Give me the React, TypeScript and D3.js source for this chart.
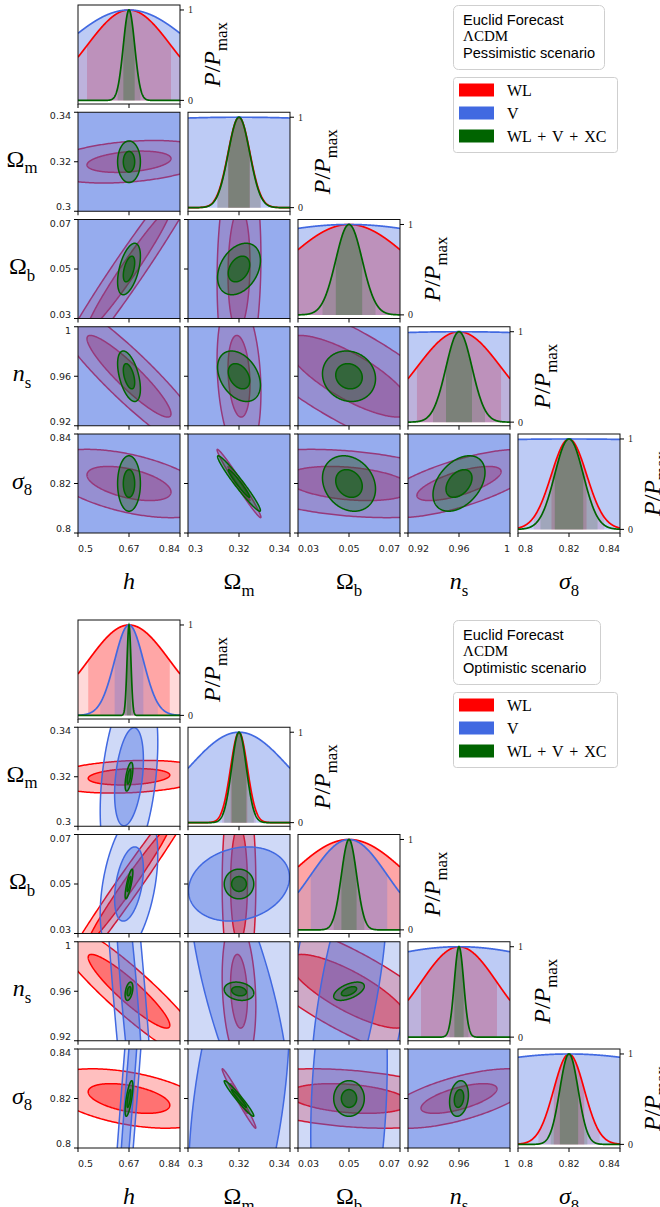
import React from 'react';
import * as d3 from 'd3';

// parameters: h, Omega_m, Omega_b, n_s, sigma_8
const fiducial = [0.67, 0.32, 0.05, 0.96, 0.82];
const axisMin = [0.5, 0.3, 0.03, 0.92, 0.8];
const axisMax = [0.84, 0.34, 0.07, 1.0, 0.84];
const tickLabels = [
  ['0.5', '0.67', '0.84'],
  ['0.3', '0.32', '0.34'],
  ['0.03', '0.05', '0.07'],
  ['0.92', '0.96', '1'],
  ['0.8', '0.82', '0.84'],
];

type Part = { t: string; it?: boolean; sub?: boolean };
const paramLabels: Part[][] = [
  [{ t: 'h', it: true }],
  [{ t: 'Ω' }, { t: 'm', sub: true }],
  [{ t: 'Ω' }, { t: 'b', sub: true }],
  [{ t: 'n', it: true }, { t: 's', sub: true }],
  [{ t: 'σ', it: true }, { t: '8', sub: true }],
];
const diagLabel: Part[] = [{ t: 'P', it: true }, { t: '/' }, { t: 'P', it: true }, { t: 'max', sub: true }];

const probeNames = ['WL', 'V', 'WL + V + XC'];
const probeColors = ['#ff0000', '#4169e1', '#006400'];

// pair order: h-Om, h-Ob, h-ns, h-s8, Om-Ob, Om-ns, Om-s8, Ob-ns, Ob-s8, ns-s8
const pessSigmaWL = [0.14, 0.0043, 0.0247, 0.033, 0.0069];
const pessSigmaV = [0.22, 0.15, 0.067, 0.3, 0.2];
const pessSigmaXC = [0.019, 0.0042, 0.0052, 0.0102, 0.0056];
const pessCorrWL = [0.3, 0.975, -0.92, -0.5, 0.1, -0.2, -0.985, -0.78, -0.3, 0.7];
const pessCorrV = [0, 0, 0, 0, 0, 0, 0, 0, 0, 0];
const pessCorrXC = [0, 0.5, -0.5, 0, 0.33, -0.35, -0.97, -0.1, -0.2, 0.4];

const optSigmaWL = [0.136, 0.0033, 0.0235, 0.0298, 0.006];
const optSigmaV = [0.048, 0.0198, 0.015, 0.118, 0.073];
const optSigmaXC = [0.0065, 0.0029, 0.003, 0.0037, 0.0036];
const optCorrWL = [0.2, 0.985, -0.92, -0.45, 0.0, -0.2, -0.985, -0.8, -0.3, 0.65];
const optCorrV = [0.35, 0.4, -0.83, 0.96, 0.18, -0.73, 0.45, 0.65, 0.2, 0];
const optCorrXC = [0.6, 0.8, 0.4, 0.7, 0, -0.2, -0.97, 0.55, 0, 0.2];

const scenarios = [
  { key: 'pess', title: 'Pessimistic scenario', top: 5, boxW: 151,
    sigmas: [pessSigmaWL, pessSigmaV, pessSigmaXC], corrs: [pessCorrWL, pessCorrV, pessCorrXC] },
  { key: 'opt', title: 'Optimistic scenario', top: 620, boxW: 147,
    sigmas: [optSigmaWL, optSigmaV, optSigmaXC], corrs: [optCorrWL, optCorrV, optCorrXC] },
];

const W = 660;
const H = 1207;
const COL_X0 = 78;
const COL_STEP = 110;
const PW = 102;
const ROW_STEP = 107.25;
const PH = 99;
const SERIF = '"Liberation Serif", "DejaVu Serif", serif';
const SANS = '"DejaVu Sans", sans-serif';
const NPAR = 5;

const pairIndex = (i: number, j: number) => {
  let k = 0;
  for (let a = 0; a < NPAR; a++) {
    for (let b = a + 1; b < NPAR; b++) {
      if (a === i && b === j) return k;
      k++;
    }
  }
  return -1;
};

function MathText({ parts, x, y, size, anchor = 'middle', transform }: any) {
  const shift = size * 0.28;
  let down = false;
  return (
    <text x={x} y={y} fontSize={size} fontFamily={SERIF} textAnchor={anchor} transform={transform} fill="#000">
      {parts.map((p: Part, k: number) => {
        let dy = 0;
        if (p.sub && !down) { dy = shift; down = true; }
        else if (!p.sub && down) { dy = -shift; down = false; }
        return (
          <tspan key={k} dy={dy || undefined} fontStyle={p.it ? 'italic' : 'normal'} fontSize={p.sub ? size * 0.7 : size}>
            {p.t}
          </tspan>
        );
      })}
    </text>
  );
}

const ellipsePath = (mx: number, my: number, sx: number, sy: number, rho: number, k: number, xs: any, ys: any) => {
  const N = 360;
  const q = Math.sqrt(Math.max(0, 1 - rho * rho));
  const pts = d3.range(N).map((n) => {
    const t = (2 * Math.PI * n) / N;
    const u = Math.cos(t);
    const v = Math.sin(t);
    return [xs(mx + k * sx * u), ys(my + k * sy * (rho * u + q * v))] as [number, number];
  });
  return d3.line().curve(d3.curveLinearClosed)(pts) || '';
};

const outerAlpha = [0.25, 0.25, 0.3];
const innerAlpha = [0.4, 0.4, 0.5];

function Triangle({ sc }: any) {
  const colLeft = (c: number) => COL_X0 + c * COL_STEP;
  const rowTop = (r: number) => sc.top + r * ROW_STEP;
  const xScale = (p: number, c: number) =>
    d3.scaleLinear().domain([axisMin[p], axisMax[p]]).range([colLeft(c), colLeft(c) + PW]);
  const yScale = (p: number, r: number) =>
    d3.scaleLinear().domain([axisMin[p], axisMax[p]]).range([rowTop(r) + PH, rowTop(r)]);

  const panels: any[] = [];
  for (let r = 0; r < NPAR; r++) {
    for (let c = 0; c <= r; c++) {
      const x0 = colLeft(c);
      const y0 = rowTop(r);
      const clipId = `clip-${sc.key}-${r}-${c}`;
      const xs = xScale(c, c);
      const content: any[] = [];
      const ticks: any[] = [];
      const labels: any[] = [];

      if (r === c) {
        const ys = d3.scaleLinear().domain([-0.04, 1.055]).range([y0 + PH, y0]);
        const lo = axisMin[c];
        const hi = axisMax[c];
        // filled bands first
        probeNames.forEach((_, p) => {
          const mu = fiducial[c];
          const s = sc.sigmas[p][c];
          const g = (x: number) => Math.exp(-0.5 * ((x - mu) / s) ** 2);
          const area = d3.area<number>().x((d) => xs(d)).y0(ys(0)).y1((d) => ys(g(d)));
          const band = (a: number, b: number, op: number, key: string) => {
            const aa = Math.max(lo, a);
            const bb = Math.min(hi, b);
            if (bb <= aa) return;
            const pts = d3.range(121).map((n) => aa + ((bb - aa) * n) / 120);
            content.push(<path key={key} d={area(pts) || ''} fill={probeColors[p]} fillOpacity={op} />);
          };
          band(mu - s, mu + s, 0.35, `b1-${p}`);
          band(mu - 2 * s, mu - s, 0.15, `b2l-${p}`);
          band(mu + s, mu + 2 * s, 0.15, `b2r-${p}`);
        });
        probeNames.forEach((_, p) => {
          const mu = fiducial[c];
          const s = sc.sigmas[p][c];
          const pts = d3.range(401).map((n) => lo + ((hi - lo) * n) / 400);
          const line = d3.line<number>().x((d) => xs(d)).y((d) => ys(Math.exp(-0.5 * ((d - mu) / s) ** 2)));
          content.push(<path key={`l-${p}`} d={line(pts) || ''} fill="none" stroke={probeColors[p]} strokeWidth={1.7} />);
        });
        [0, 1].forEach((v) => {
          ticks.push(<line key={`rt${v}`} x1={x0 + PW} x2={x0 + PW + 4} y1={ys(v)} y2={ys(v)} stroke="#000" strokeWidth={1} />);
          labels.push(
            <text key={`rl${v}`} x={x0 + PW + 8} y={ys(v) + 3.5} fontSize={10} fontFamily={SERIF} fill="#222">{String(v)}</text>
          );
        });
        const cx = x0 + PW + 40;
        const cy = y0 + PH / 2;
        labels.push(
          <MathText key="pp" parts={diagLabel} x={cx} y={cy} size={24} transform={`rotate(-90, ${cx}, ${cy})`} />
        );
      } else {
        const ys = yScale(r, r);
        const k = pairIndex(c, r);
        probeNames.forEach((_, p) => {
          const sx = sc.sigmas[p][c];
          const sy = sc.sigmas[p][r];
          const rho = sc.corrs[p][k];
          const outer = ellipsePath(fiducial[c], fiducial[r], sx, sy, rho, 2, xs, ys);
          const inner = ellipsePath(fiducial[c], fiducial[r], sx, sy, rho, 1, xs, ys);
          content.push(<path key={`of-${p}`} d={outer} fill={probeColors[p]} fillOpacity={outerAlpha[p]} />);
          content.push(<path key={`if-${p}`} d={inner} fill={probeColors[p]} fillOpacity={innerAlpha[p]} />);
          content.push(<path key={`os-${p}`} d={outer} fill="none" stroke={probeColors[p]} strokeWidth={1.5} />);
          content.push(<path key={`is-${p}`} d={inner} fill="none" stroke={probeColors[p]} strokeWidth={1.5} />);
        });
        tickLabels[r].forEach((lab, n) => {
          const yy = ys(+lab);
          ticks.push(<line key={`lt${n}`} x1={x0 - 4} x2={x0} y1={yy} y2={yy} stroke="#000" strokeWidth={1} />);
          if (c === 0) {
            const by = n === 0 ? yy - 1 : n === 2 ? yy + 7 : yy + 3.4;
            labels.push(
              <text key={`yl${n}`} x={x0 - 7} y={by} fontSize={9.5} fontFamily={SANS} textAnchor="end" fill="#222">{lab}</text>
            );
          }
        });
        if (c === 0) {
          labels.push(<MathText key="ylab" parts={paramLabels[r]} x={22} y={y0 + PH / 2 + 5} size={24} />);
        }
      }

      tickLabels[c].forEach((lab, n) => {
        const xx = xs(+lab);
        ticks.push(<line key={`bt${n}`} x1={xx} x2={xx} y1={y0 + PH} y2={y0 + PH + 4} stroke="#000" strokeWidth={1} />);
        if (r === NPAR - 1) {
          labels.push(
            <text key={`xl${n}`} x={xx} y={y0 + PH + 18.5} fontSize={9.5} fontFamily={SANS}
              textAnchor={n === 0 ? 'start' : n === 2 ? 'end' : 'middle'} fill="#222">{lab}</text>
          );
        }
      });
      if (r === NPAR - 1) {
        labels.push(<MathText key="xlab" parts={paramLabels[c]} x={x0 + PW / 2} y={y0 + PH + 56} size={24} />);
      }

      panels.push(
        <g key={clipId}>
          <clipPath id={clipId}>
            <rect x={x0} y={y0} width={PW} height={PH} />
          </clipPath>
          <rect x={x0} y={y0} width={PW} height={PH} fill="#fff" />
          <g clipPath={`url(#${clipId})`}>{content}</g>
          <rect x={x0} y={y0} width={PW} height={PH} fill="none" stroke="#111" strokeWidth={1} />
          {ticks}
          {labels}
        </g>
      );
    }
  }

  const legendTop = sc.top;
  return (
    <g>
      {panels}
      <g transform={`translate(453, ${legendTop})`}>
        <rect x={0.5} y={0.5} width={sc.boxW} height={64} rx={5} fill="#fff" stroke="#cfcfcf" strokeWidth={1} />
        <text x={10} y={20} fontSize={14.6} fontFamily='"Liberation Sans", sans-serif'>Euclid Forecast</text>
        <text x={10} y={36} fontSize={15} fontFamily={SERIF}>ΛCDM</text>
        <text x={10} y={52.5} fontSize={14.6} fontFamily='"Liberation Sans", sans-serif'>{sc.title}</text>
        <rect x={0.5} y={72.5} width={164} height={75} rx={3} fill="#fff" stroke="#cfcfcf" strokeWidth={1} />
        {probeNames.map((name, p) => (
          <g key={name}>
            <rect x={6} y={85 + p * 23 - 6.5} width={35} height={13} fill={probeColors[p]} />
            <text x={54} y={85 + p * 23 + 5.5} fontSize={16} fontFamily={SERIF} wordSpacing={2}>{name}</text>
          </g>
        ))}
      </g>
    </g>
  );
}

export default function App() {
  return (
    <svg width={W} height={H} style={{ position: 'absolute', left: 0, top: 0, display: 'block' }}>
      <rect width={W} height={H} fill="#fff" />
      {scenarios.map((sc) => (
        <Triangle key={sc.key} sc={sc} />
      ))}
    </svg>
  );
}
